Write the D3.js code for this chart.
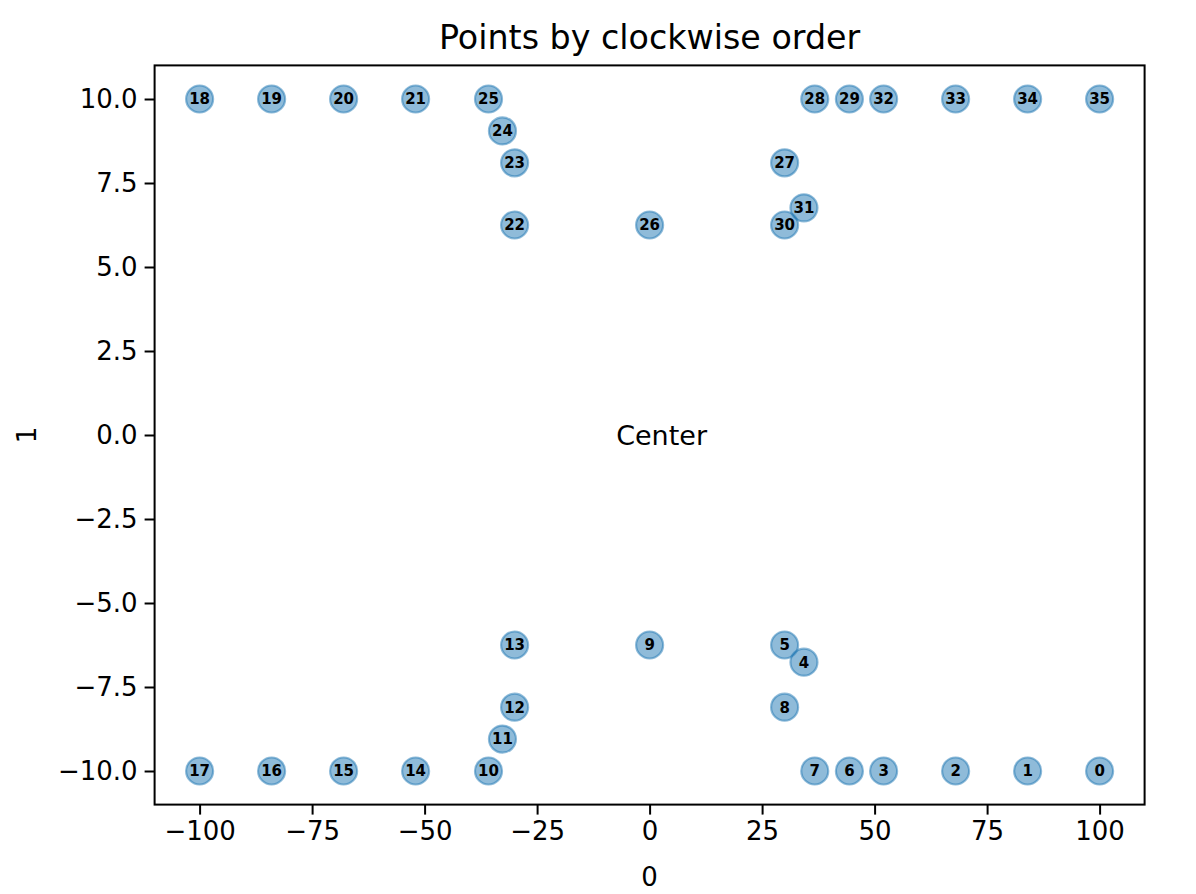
<!DOCTYPE html>
<html><head><meta charset="utf-8">
<script src="https://cdn.jsdelivr.net/npm/d3@7"></script>
<style>body{margin:0;background:#fff}svg text{font-family:"DejaVu Sans",sans-serif}</style>
</head><body><svg id="c" width="1196" height="894"></svg>
<script>
const pointIds = [0,1,2,3,4,5,6,7,8,9,10,11,12,13,14,15,16,17,18,19,20,21,22,23,24,25,26,27,28,29,30,31,32,33,34,35];
const xValues = [100,84,68,52,34.3,30,44.4,36.7,30,0,-35.8,-32.7,-30,-30,-52,-68,-84,-100,-100,-84,-68,-52,-30,-30,-32.7,-35.8,0,30,36.7,44.4,30,34.3,52,68,84,100];
const yValues = [-10,-10,-10,-10,-6.76,-6.25,-10,-10,-8.1,-6.25,-10,-9.05,-8.1,-6.25,-10,-10,-10,-10,10,10,10,10,6.25,8.1,9.05,10,6.25,8.1,10,10,6.25,6.76,10,10,10,10];
const xTicks = [-100,-75,-50,-25,0,25,50,75,100];
const yTicks = [-10,-7.5,-5,-2.5,0,2.5,5,7.5,10];
const titleText = "Points by clockwise order";
const xLabel = "0", yLabel = "1", centerText = "Center";

const svg = d3.select("#c");
const L=154.6, R=1144.6, T=65.4, B=804.6;
const x = d3.scaleLinear().domain([-110,110]).range([L,R]);
const y = d3.scaleLinear().domain([-11,11]).range([B,T]);
const data = pointIds.map((id,i)=>({id, x:xValues[i], y:yValues[i]}));

const fs = 26;
const xAxis = svg.append("g").attr("transform",`translate(0,${B})`)
  .call(d3.axisBottom(x).tickValues(xTicks).tickSize(10).tickPadding(7).tickFormat(d=>d3.format("d")(d).replace("-","\u2212")));
const yAxis = svg.append("g").attr("transform",`translate(${L},0)`)
  .call(d3.axisLeft(y).tickValues(yTicks).tickSize(10).tickPadding(7).tickFormat(d=>d3.format(".1f")(d).replace("-","\u2212")));
[xAxis,yAxis].forEach(a=>{
  a.select(".domain").remove();
  a.selectAll(".tick line").attr("stroke","#000").attr("stroke-width",2);
  a.selectAll(".tick text").attr("font-size",fs).attr("fill","#000").style("font-family","DejaVu Sans");
});

svg.append("rect").attr("x",L).attr("y",T).attr("width",R-L).attr("height",B-T)
  .attr("fill","none").attr("stroke","#000").attr("stroke-width",2);

svg.append("g").selectAll("circle").data(data).join("circle")
  .attr("cx",d=>x(d.x)).attr("cy",d=>y(d.y)).attr("r",13.5)
  .attr("fill","#1f77b4").attr("fill-opacity",0.5)
  .attr("stroke","#1f77b4").attr("stroke-opacity",0.5).attr("stroke-width",2.2);

svg.append("g").selectAll("text").data(data).join("text")
  .attr("x",d=>x(d.x)).attr("y",d=>y(d.y)).attr("text-anchor","middle").attr("dy","0.36em")
  .attr("font-size",15).attr("font-weight","bold").attr("fill","#000").text(d=>d.id);

svg.append("text").attr("x",x(0)+12).attr("y",y(0)).attr("dy","0.36em").attr("text-anchor","middle")
  .attr("font-size",27).attr("fill","#000").text(centerText);

svg.append("text").attr("x",(L+R)/2).attr("y",49).attr("text-anchor","middle")
  .attr("font-size",33.3).attr("fill","#000").text(titleText);
svg.append("text").attr("x",x(0)).attr("y",886).attr("text-anchor","middle")
  .attr("font-size",fs).attr("fill","#000").text(xLabel);
svg.append("text").attr("transform",`translate(36,${y(0)}) rotate(-90)`).attr("text-anchor","middle")
  .attr("font-size",fs).attr("fill","#000").text(yLabel);
</script></body></html>
